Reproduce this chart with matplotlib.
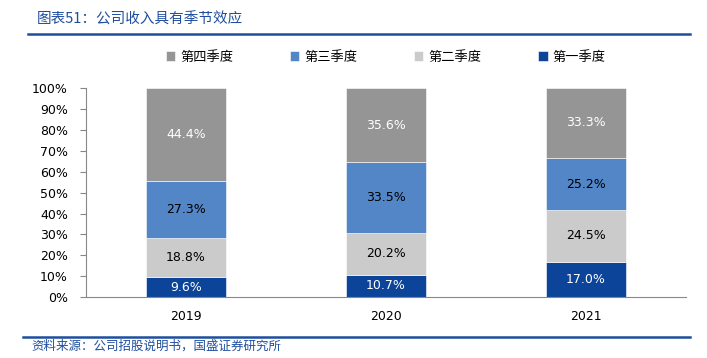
import matplotlib.pyplot as plt
import numpy as np

plt.rcParams['font.family'] = ['DejaVu Sans', 'Noto Sans CJK SC']

years = ['2019', '2020', '2021']
q1 = [9.6, 10.7, 17.0]
q2 = [18.8, 20.2, 24.5]
q3 = [27.3, 33.5, 25.2]
q4 = [44.4, 35.6, 33.3]

series = [('第一季度', q1, '#0B4499', 'white'),
          ('第二季度', q2, '#CBCBCB', 'black'),
          ('第三季度', q3, '#5286C6', 'black'),
          ('第四季度', q4, '#959595', 'white')]

fig = plt.figure(figsize=(7.07, 3.58), dpi=100)
ax = fig.add_axes([0.1216, 0.170, 0.848, 0.584])

x = np.arange(len(years))
bottom = np.zeros(len(years))
handles = {}
for name, vals, col, tcol in series:
    vals = np.array(vals)
    b = ax.bar(x, vals, 0.4, bottom=bottom, color=col, edgecolor='white', linewidth=0.4)
    handles[name] = b
    for xi, v, bt in zip(x, vals, bottom):
        ax.text(xi, bt + v / 2, f'{v:.1f}%', ha='center', va='center',
                fontsize=9, color=tcol)
    bottom += vals

ax.set_xlim(-0.5, 2.5)
ax.set_ylim(0, 100)
ax.set_yticks(np.arange(0, 101, 10))
ax.set_yticklabels([f'{v}%' for v in range(0, 101, 10)], fontsize=9)
ax.set_xticks(x)
ax.set_xticklabels(years, fontsize=9)
ax.tick_params(axis='x', length=0, pad=9)
ax.tick_params(axis='y', length=4, color='#888888', pad=9)
for s in ['top', 'right']:
    ax.spines[s].set_visible(False)
ax.spines['left'].set_color('#888888')
ax.spines['bottom'].set_color('#888888')
ax.spines['left'].set_linewidth(0.8)
ax.spines['bottom'].set_linewidth(0.8)

order = ['第四季度', '第三季度', '第二季度', '第一季度']
ax.legend([handles[n] for n in order], order, loc='lower center',
          bbox_to_anchor=(0.5, 1.06), ncol=4, frameon=False,
          prop={'family': 'Noto Sans CJK SC', 'size': 9.5},
          handlelength=0.7, handleheight=0.7, handletextpad=0.4, columnspacing=4.3)

fig.text(0.052, 0.945, '图表51：公司收入具有季节效应', fontsize=10.5, color='#1F4E9E',
         style='italic', family=['Noto Sans CJK SC'], va='center')
fig.add_artist(plt.Line2D([0.04, 0.976], [0.905, 0.905], color='#1F4E9E', lw=1.8,
                          transform=fig.transFigure))
fig.add_artist(plt.Line2D([0.032, 0.976], [0.058, 0.058], color='#1F4E9E', lw=1.8,
                          transform=fig.transFigure))
fig.text(0.045, 0.033, '资料来源：公司招股说明书，国盛证券研究所', fontsize=9, color='#1F4E9E',
         style='italic', family=['Noto Sans CJK SC'], va='center')

fig.savefig('out.png', dpi=100)
